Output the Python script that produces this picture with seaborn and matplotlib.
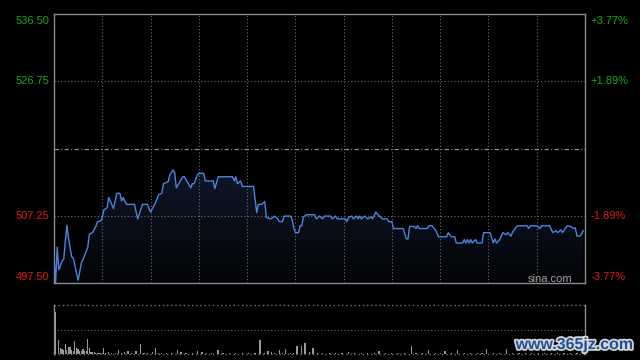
import numpy as np
import pandas as pd
import matplotlib
matplotlib.use('Agg')
import matplotlib.pyplot as plt
import matplotlib.patheffects as pe
from matplotlib.patches import PathPatch
from matplotlib.colors import LinearSegmentedColormap
import seaborn as sns

# intraday minutes since open (HK session, 330 minutes) and price
minutes = [0, 1, 2, 3, 5, 6, 8, 9, 11, 12, 15, 17, 18, 21, 22, 24, 26, 27, 29, 30,
           31, 33, 34, 37, 39, 41, 42, 43, 45, 50, 52, 55, 58, 60, 63, 65, 67, 68, 71, 72,
           74, 75, 76, 80, 81, 85, 86, 87, 89, 90, 93, 94, 99, 100, 102, 111, 112, 113, 114, 116,
           117, 124, 126, 127, 129, 131, 132, 135, 137, 139, 140, 142, 143, 147, 148, 149, 150, 152, 153, 154,
           155, 157, 162, 163, 165, 167, 168, 172, 173, 175, 176, 181, 182, 183, 185, 186, 188, 189, 190, 191,
           193, 195, 197, 198, 200, 201, 204, 207, 208, 210, 211, 217, 219, 220, 221, 224, 225, 226, 227, 232,
           233, 235, 237, 239, 244, 245, 247, 249, 250, 254, 255, 256, 257, 258, 259, 260, 262, 263, 266, 267,
           271, 273, 274, 275, 277, 279, 281, 282, 284, 285, 288, 294, 295, 296, 300, 302, 303, 308, 310, 312,
           313, 315, 316, 318, 319, 321, 323, 324, 325, 327, 329]
prices = [501.3, 497.6, 502.7, 499.4, 500.7, 500.9, 505.9, 504.0, 501.3, 501.1, 497.9, 500.4, 500.9, 502.7, 504.6, 504.8, 505.7, 506.4, 506.5, 507.0,
          508.1, 508.4, 509.9, 508.3, 510.5, 510.5, 509.4, 509.9, 508.9, 508.9, 506.8, 508.9, 508.9, 507.8, 509.1, 510.3, 510.5, 511.9, 512.2, 513.2,
          513.9, 513.5, 511.3, 512.9, 512.9, 511.3, 511.9, 511.9, 513.1, 513.4, 513.4, 512.3, 512.3, 511.2, 512.9, 512.9, 512.3, 512.9, 511.9, 512.3,
          511.5, 511.5, 507.7, 508.9, 508.9, 509.3, 507.0, 506.8, 507.2, 506.8, 506.4, 506.4, 507.2, 507.2, 506.7, 505.5, 504.8, 504.8, 505.8, 505.8,
          507.1, 507.4, 507.4, 506.8, 507.2, 506.8, 507.2, 507.2, 506.8, 507.2, 506.8, 506.8, 506.4, 507.0, 507.2, 506.8, 507.2, 506.8, 507.2, 506.8,
          507.2, 506.8, 507.1, 506.8, 507.8, 507.5, 506.8, 506.8, 506.4, 506.4, 505.4, 505.4, 503.9, 503.9, 505.7, 505.7, 505.4, 505.8, 505.4, 505.4,
          505.8, 505.8, 505.2, 504.2, 504.2, 504.8, 504.2, 504.2, 503.3, 503.3, 503.8, 503.3, 503.8, 503.3, 503.8, 503.3, 503.8, 503.3, 503.3, 504.8,
          504.8, 503.3, 503.9, 503.3, 503.8, 504.8, 504.5, 504.8, 504.3, 504.9, 505.8, 505.8, 505.4, 505.8, 505.8, 505.4, 505.8, 505.8, 504.8, 505.1,
          504.8, 505.2, 504.8, 505.5, 505.8, 505.7, 505.4, 505.5, 504.3, 504.3, 505.1]

# volume per minute (shares)
vol_minutes = [0, 2, 3, 4, 5, 6, 7, 8, 9, 10, 11, 12, 13, 14, 15, 16, 17, 18, 19, 20,
               21, 22, 23, 24, 25, 26, 27, 28, 29, 30, 31, 33, 35, 37, 39, 41, 43, 45, 47, 50,
               53, 55, 57, 60, 62, 64, 66, 69, 72, 76, 78, 81, 85, 88, 91, 94, 97, 101, 104, 108,
               112, 116, 120, 124, 127, 130, 132, 134, 136, 139, 141, 143, 146, 148, 150, 153, 155, 158, 160, 163,
               166, 170, 174, 178, 182, 186, 190, 194, 198, 201, 205, 209, 213, 217, 221, 224, 228, 232, 236, 239,
               242, 246, 250, 254, 258, 262, 265, 268, 272, 276, 280, 284, 288, 292, 296, 300, 304, 308, 312, 316,
               320, 324, 329]
volumes = [860000, 290000, 120000, 100000, 80000, 200000, 80000, 140000, 140000, 80000, 60000, 270000, 120000, 100000, 60000, 60000, 100000, 60000, 60000, 310000,
           120000, 40000, 40000, 40000, 25000, 20000, 20000, 25000, 20000, 120000, 20000, 40000, 25000, 20000, 80000, 20000, 45000, 55000, 20000, 60000,
           200000, 20000, 25000, 35000, 120000, 20000, 25000, 25000, 20000, 80000, 40000, 20000, 20000, 60000, 40000, 20000, 25000, 85000, 20000, 20000,
           20000, 25000, 20000, 20000, 290000, 20000, 55000, 35000, 20000, 80000, 20000, 100000, 25000, 20000, 165000, 165000, 225000, 35000, 120000, 20000,
           20000, 25000, 20000, 20000, 40000, 20000, 20000, 25000, 20000, 55000, 20000, 20000, 25000, 20000, 165000, 20000, 20000, 80000, 20000, 20000,
           55000, 20000, 75000, 20000, 20000, 25000, 20000, 100000, 20000, 20000, 100000, 20000, 25000, 20000, 20000, 20000, 25000, 20000, 20000, 20000,
           20000, 25000, 40000]

prev_close = 517.00
y_lo, y_hi = 497.50, 536.50
left_labels = ['536.50', '526.75', '507.25', '497.50']
right_labels = ['+3.77%', '+1.89%', '-1.89%', '-3.77%']
label_levels = [536.50, 526.75, 507.25, 497.50]

df = pd.DataFrame({'minute': minutes, 'price': prices})

sns.set_style('dark', {'axes.facecolor': 'black', 'figure.facecolor': 'black'})
plt.rcParams['font.family'] = ['Liberation Sans', 'DejaVu Sans']

fig = plt.figure(figsize=(6.4, 3.6), dpi=100)
ax = fig.add_axes([54 / 640, 1 - 283 / 360, 531 / 640, 269 / 360])
axv = fig.add_axes([54 / 640, 1 - 354 / 360, 531 / 640, 49 / 360])

grid_col = '#6e6e6e'
dot = (0, (1, 2))

# gradient fill under the price line
poly = ax.fill_between(df['minute'], df['price'], y_lo, color='none', lw=0)
clip = PathPatch(poly.get_paths()[0], transform=ax.transData, facecolor='none', edgecolor='none')
ax.add_patch(clip)
cmap = LinearSegmentedColormap.from_list('fill', ['#030407', '#0e1728'])
grad = np.linspace(1, 0, 256).reshape(-1, 1)
im = ax.imshow(grad, extent=[0, 330, y_lo, max(prices)], aspect='auto', cmap=cmap, zorder=1)
im.set_clip_path(clip)

sns.lineplot(data=df, x='minute', y='price', ax=ax, color='#4d84dc', linewidth=1.0, zorder=3)

ax.set_xlim(0, 330)
ax.set_ylim(y_lo, y_hi)
for m in range(30, 330, 30):
    ax.axvline(m, color=grid_col, lw=0.8, ls=dot, zorder=2)
for lv in [526.75, 507.25]:
    ax.axhline(lv, color=grid_col, lw=0.8, ls=dot, zorder=2)
ax.axhline(prev_close, color='#9a9a9a', lw=0.8, ls=(0, (4, 2, 1, 2)), zorder=2)

ax.set_xticks([])
ax.set_yticks([])
ax.set_xlabel('')
ax.set_ylabel('')
for s in ax.spines.values():
    s.set_visible(True)
    s.set_color('#8a8a8a')
    s.set_linewidth(1.0)

trans = ax.get_yaxis_transform()
for i, (lv, lt, rt) in enumerate(zip(label_levels, left_labels, right_labels)):
    col = '#18a818' if lv > prev_close else '#e01818'
    va = 'center'
    dy = 0
    if i == 0:
        va, dy = 'top', -1.5
    elif i == len(label_levels) - 1:
        va, dy = 'bottom', 1
    ax.annotate(lt, xy=(0, lv), xycoords=trans, xytext=(-3, dy), textcoords='offset points',
                ha='right', va=va, color=col, fontsize=8)
    ax.annotate(rt, xy=(1, lv), xycoords=trans, xytext=(4, dy), textcoords='offset points',
                ha='left', va=va, color=col, fontsize=8)

ax.text(0.977, 0.016, 'sina.com', transform=ax.transAxes, ha='right', va='center',
        color='#a0a0a0', fontsize=8)

# volume panel (bars drawn just right of each minute mark)
axv.bar(np.array(vol_minutes) + 0.6, volumes, width=0.75, align='edge', color='#9a9a9a',
        edgecolor='none', linewidth=0, zorder=3)
axv.set_xlim(0, 330)
axv.set_ylim(0, 1000000)
axv.axhline(500000, color=grid_col, lw=0.8, ls=dot, zorder=2)
axv.axhline(1000000, color=grid_col, lw=1.0, ls=dot, zorder=2, clip_on=False)
axv.axhline(0, color=grid_col, lw=1.0, ls=dot, zorder=2, clip_on=False)
axv.set_xticks([])
axv.set_yticks([])
for k in ['top', 'bottom']:
    axv.spines[k].set_visible(False)
for k in ['left', 'right']:
    axv.spines[k].set_visible(True)
    axv.spines[k].set_color('#8a8a8a')
    axv.spines[k].set_linewidth(1.0)

fig.text(0.898, 0.043, 'www.365jz.com', ha='center', va='center', fontsize=11.5,
         fontweight='bold', color='#1f4f99',
         path_effects=[pe.withStroke(linewidth=2.5, foreground='#d8d8d8')])

fig.savefig('out.png', dpi=100, facecolor='black')
